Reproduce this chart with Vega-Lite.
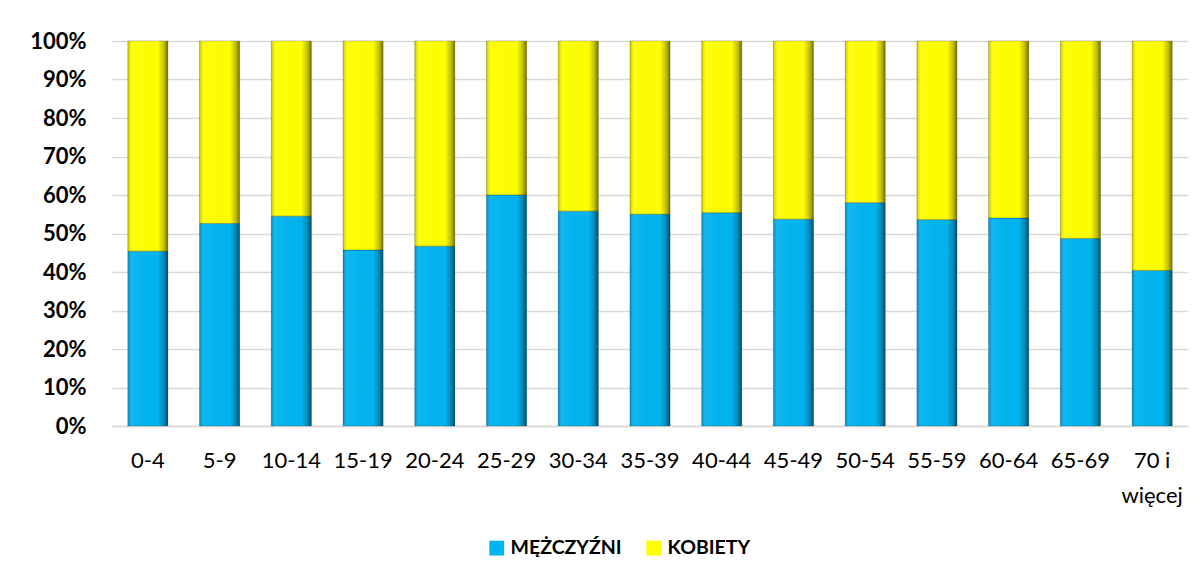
{
  "$schema": "https://vega.github.io/schema/vega-lite/v6.json",
  "width": 1076,
  "height": 385,
  "autosize": {"type": "none"},
  "padding": {"left": 112, "top": 41, "right": 15, "bottom": 152},
  "background": "white",
  "config": {
    "view": {"stroke": null},
    "font": "Lato"
  },
  "data": {
    "values": [
      {"age": "0-4", "sex": "MĘŻCZYŹNI", "value": 45.4},
      {"age": "0-4", "sex": "KOBIETY", "value": 54.6},
      {"age": "5-9", "sex": "MĘŻCZYŹNI", "value": 52.6},
      {"age": "5-9", "sex": "KOBIETY", "value": 47.4},
      {"age": "10-14", "sex": "MĘŻCZYŹNI", "value": 54.5},
      {"age": "10-14", "sex": "KOBIETY", "value": 45.5},
      {"age": "15-19", "sex": "MĘŻCZYŹNI", "value": 45.7},
      {"age": "15-19", "sex": "KOBIETY", "value": 54.3},
      {"age": "20-24", "sex": "MĘŻCZYŹNI", "value": 46.7},
      {"age": "20-24", "sex": "KOBIETY", "value": 53.3},
      {"age": "25-29", "sex": "MĘŻCZYŹNI", "value": 60.0},
      {"age": "25-29", "sex": "KOBIETY", "value": 40.0},
      {"age": "30-34", "sex": "MĘŻCZYŹNI", "value": 55.8},
      {"age": "30-34", "sex": "KOBIETY", "value": 44.2},
      {"age": "35-39", "sex": "MĘŻCZYŹNI", "value": 55.0},
      {"age": "35-39", "sex": "KOBIETY", "value": 45.0},
      {"age": "40-44", "sex": "MĘŻCZYŹNI", "value": 55.4},
      {"age": "40-44", "sex": "KOBIETY", "value": 44.6},
      {"age": "45-49", "sex": "MĘŻCZYŹNI", "value": 53.7},
      {"age": "45-49", "sex": "KOBIETY", "value": 46.3},
      {"age": "50-54", "sex": "MĘŻCZYŹNI", "value": 58.0},
      {"age": "50-54", "sex": "KOBIETY", "value": 42.0},
      {"age": "55-59", "sex": "MĘŻCZYŹNI", "value": 53.6},
      {"age": "55-59", "sex": "KOBIETY", "value": 46.4},
      {"age": "60-64", "sex": "MĘŻCZYŹNI", "value": 54.0},
      {"age": "60-64", "sex": "KOBIETY", "value": 46.0},
      {"age": "65-69", "sex": "MĘŻCZYŹNI", "value": 48.7},
      {"age": "65-69", "sex": "KOBIETY", "value": 51.3},
      {"age": "70 i więcej", "sex": "MĘŻCZYŹNI", "value": 40.4},
      {"age": "70 i więcej", "sex": "KOBIETY", "value": 59.6}
    ]
  },
  "encoding": {
    "x": {
      "field": "age",
      "type": "nominal",
      "sort": null,
      "scale": {"paddingInner": 0.44, "paddingOuter": 0.22},
      "axis": {
        "title": null,
        "labelAngle": 0,
        "labelFontSize": 22,
        "labelColor": "#000000",
        "labelPadding": 24,
        "labelLineHeight": 35,
        "labelExpr": "datum.value == '70 i więcej' ? ['70 i', 'więcej'] : datum.value",
        "ticks": false,
        "domain": true,
        "domainColor": "#D9D9D9",
        "domainWidth": 1.5,
        "grid": false
      }
    },
    "y": {
      "field": "value",
      "type": "quantitative",
      "stack": "zero",
      "scale": {"domain": [0, 100], "nice": false},
      "axis": {
        "title": null,
        "values": [0, 10, 20, 30, 40, 50, 60, 70, 80, 90, 100],
        "labelExpr": "datum.value + '%'",
        "labelFontSize": 22,
        "labelFontWeight": "bold",
        "labelColor": "#000000",
        "labelPadding": 26,
        "ticks": false,
        "domain": false,
        "grid": true,
        "gridColor": "#D9D9D9",
        "gridWidth": 1.5
      }
    },
    "order": {"field": "sex", "sort": "descending"}
  },
  "layer": [
    {
      "mark": {"type": "bar"},
      "encoding": {
        "color": {
          "field": "sex",
          "type": "nominal",
          "scale": {"domain": ["MĘŻCZYŹNI", "KOBIETY"], "range": ["#00B4F0", "#FFFF00"]},
          "legend": {
            "title": null,
            "orient": "none",
            "direction": "horizontal",
            "legendX": 375,
            "legendY": 497,
            "symbolType": "square",
            "symbolSize": 220,
            "symbolStrokeWidth": 0,
            "labelFontSize": 19.5,
            "labelFontWeight": "bold",
            "labelColor": "#000000",
            "columnPadding": 22,
            "labelOffset": 4
          }
        }
      }
    },
    {
      "mark": {
        "type": "bar",
        "fill": {
          "gradient": "linear",
          "x1": 0, "y1": 0, "x2": 1, "y2": 0,
          "stops": [
            {"offset": 0, "color": "rgba(0,0,0,0.25)"},
            {"offset": 0.12, "color": "rgba(255,255,255,0.05)"},
            {"offset": 0.75, "color": "rgba(0,0,0,0.0)"},
            {"offset": 0.9, "color": "rgba(0,0,0,0.25)"},
            {"offset": 1, "color": "rgba(0,0,0,0.55)"}
          ]
        },
        "stroke": "rgba(0,0,0,0.25)",
        "strokeWidth": 0.7
      }
    }
  ]
}
